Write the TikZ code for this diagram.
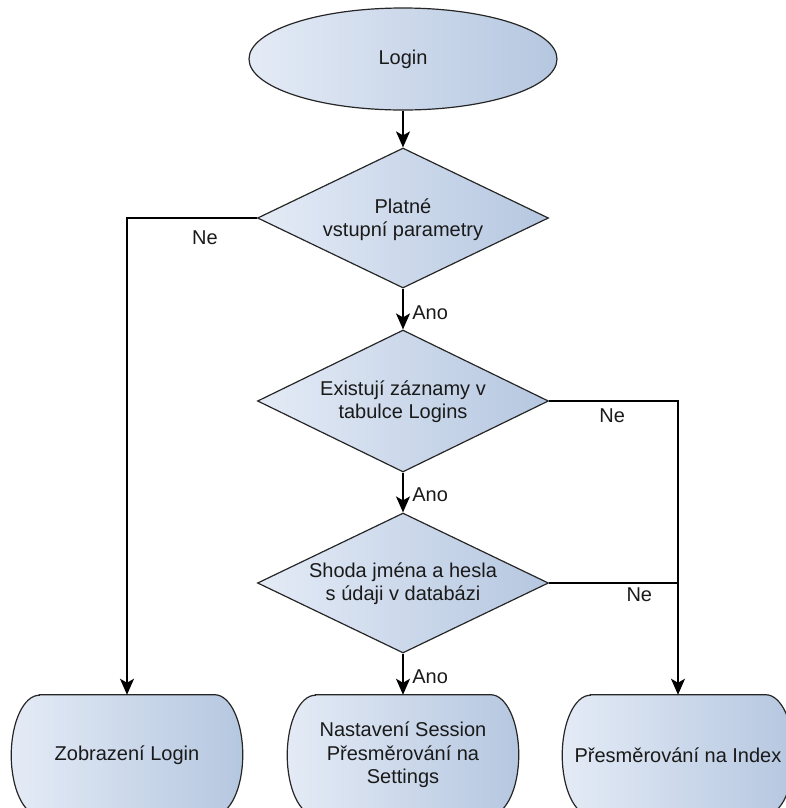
\documentclass[tikz,border=0pt]{standalone}
\usepackage{fontspec}
\setmainfont{Liberation Sans}
\usetikzlibrary{shapes.geometric,arrows.meta,backgrounds}
\definecolor{gradL}{HTML}{E4EBF6}
\definecolor{gradR}{HTML}{B5C7E0}
\definecolor{edge}{HTML}{262626}
\definecolor{txt}{HTML}{1A1A1A}
\newcommand{\termpath}[1]{%
  \path[shapefill] ([xshift=21pt]#1.north west) -- ([xshift=-21pt]#1.north east)
    arc[start angle=90,end angle=-90,x radius=21pt,y radius=45pt]
    -- ([xshift=21pt]#1.south west)
    arc[start angle=270,end angle=90,x radius=21pt,y radius=45pt] -- cycle;}
\begin{document}
\begin{tikzpicture}[x=0.75pt,y=-0.75pt,
  every node/.style={font=\fontsize{15pt}{17.5pt}\selectfont, text=txt},
  shapefill/.style={draw=edge, line width=0.9pt, left color=gradL, right color=gradR},
  startnode/.style={ellipse, shapefill, minimum width=231pt, minimum height=76.5pt, inner sep=0pt},
  decision/.style={diamond, shapefill, minimum width=218.25pt, minimum height=105pt, inner sep=0pt},
  termbox/.style={rectangle, minimum width=173.25pt, minimum height=90pt, inner sep=0pt, align=center},
  flow/.style={draw=black, line width=1.1pt, -{Stealth[length=12pt,width=10.5pt,inset=3pt]}},
  conn/.style={draw=black, line width=1.1pt},
  lbl/.style={inner sep=0pt}
]
\path[use as bounding box, clip] (0,0) rectangle (786,808);

% start
\node[startnode] (login) at (403,59) {Login};

% decisions
\node[decision] (d1) at (403,218) {};
\node[lbl, align=center] (d1t) at (403,220) {Platné\\vstupní parametry};
\node[decision, minimum height=106.5pt] (d2) at (403,401) {};
\node[lbl, align=center] (d2t) at (403,402) {Existují záznamy v\\tabulce Logins};
\node[decision] (d3) at (403,583) {};
\node[lbl, align=center] (d3t) at (403,584) {Shoda jména a hesla\\s údaji v databázi};

% terminators
\node[termbox] (t1) at (127,755) {Zobrazení Login};
\node[termbox] (t2) at (403,755) {Nastavení Session\\Přesměrování na\\Settings};
\node[termbox] (t3) at (678,755) {Přesměrování na Index};
\begin{scope}[on background layer]
  \termpath{t1}
  \termpath{t2}
  \termpath{t3}
\end{scope}

% connectors
\draw[flow] (login.south) -- (d1.north);
\draw[flow] (d1.south) -- node[lbl, pos=0.6, anchor=west, xshift=6.5pt] {Ano} (d2.north);
\draw[flow] (d2.south) -- node[lbl, pos=0.56, anchor=west, xshift=6.5pt] {Ano} (d3.north);
\draw[flow] (d3.south) -- node[lbl, pos=0.55, anchor=west, xshift=6.5pt] {Ano} (t2.north);
\draw[flow] (d1.west) -| node[lbl, pos=0.2, anchor=north, yshift=-9pt] {Ne} (t1.north);
\draw[flow] (d2.east) -| node[lbl, pos=0.245, anchor=north, yshift=-5pt] {Ne} (t3.north);
\coordinate (j) at (d3.east -| t3.north);
\draw[conn] (d3.east) -- node[lbl, pos=0.7, anchor=north, yshift=-3pt] {Ne} (j);
\end{tikzpicture}
\end{document}
